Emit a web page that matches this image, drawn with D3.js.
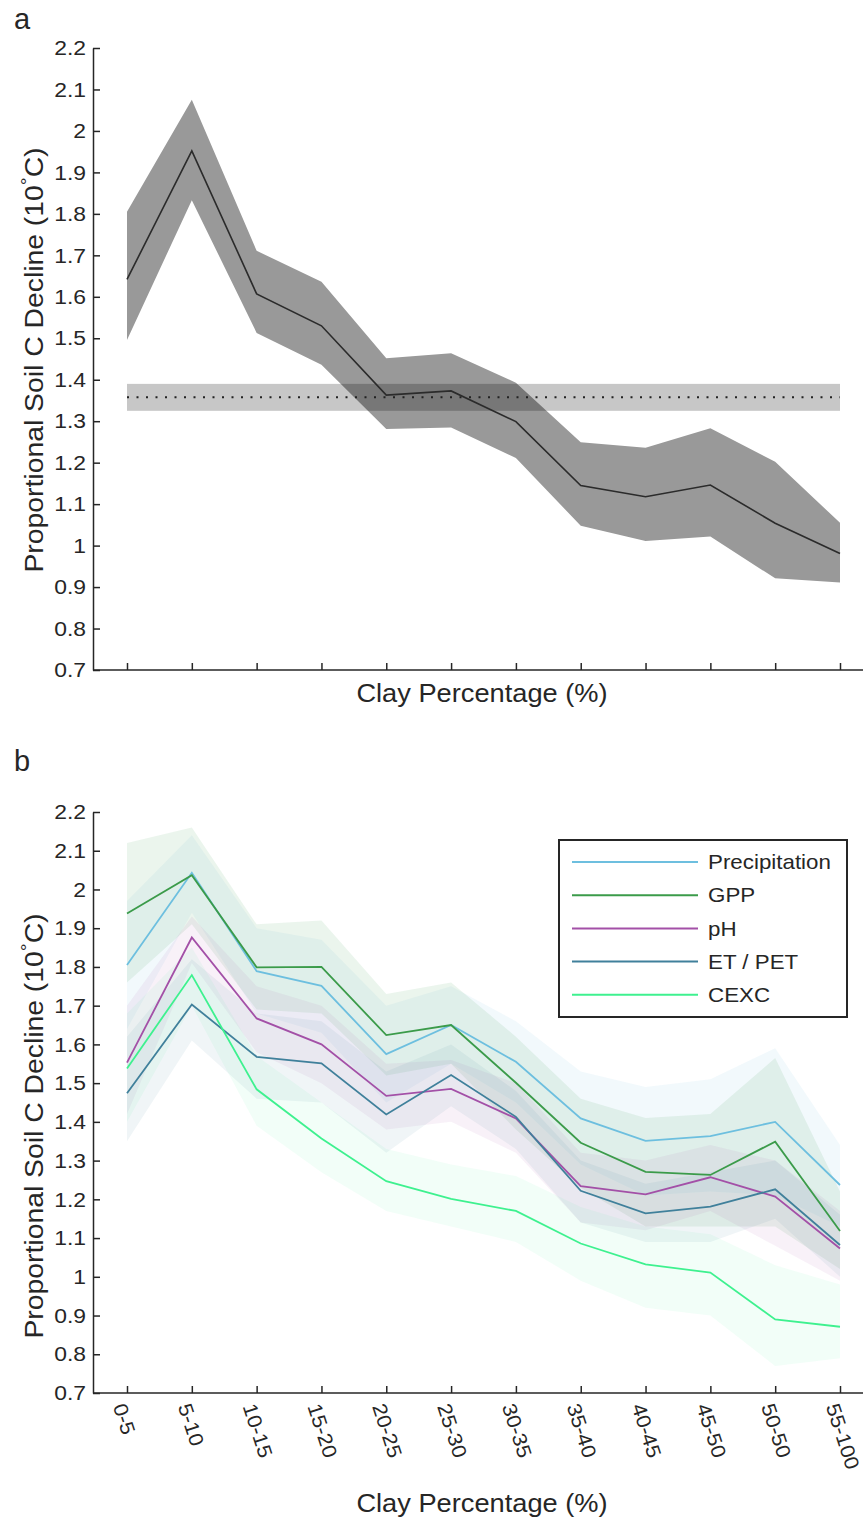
<!DOCTYPE html>
<html><head><meta charset="utf-8">
<script src="https://cdn.jsdelivr.net/npm/d3@7"></script>
<style>body{margin:0;background:#fff}svg{display:block}text{font-family:"Liberation Sans",Arial,sans-serif;fill:#262626}</style>
</head><body>
<svg id="c" width="863" height="1517"></svg>
<script>
const categories = ["0-5","5-10","10-15","15-20","20-25","25-30","30-35","35-40","40-45","45-50","50-50","55-100"];
const yTicks = [0.7,0.8,0.9,1.0,1.1,1.2,1.3,1.4,1.5,1.6,1.7,1.8,1.9,2.0,2.1,2.2];

// Panel a
const aMean  = [1.642,1.952,1.607,1.530,1.363,1.373,1.299,1.145,1.118,1.146,1.054,0.981];
const aUpper = [1.805,2.075,1.711,1.636,1.452,1.464,1.393,1.249,1.236,1.283,1.202,1.055];
const aLower = [1.496,1.833,1.513,1.436,1.281,1.285,1.211,1.048,1.011,1.022,0.921,0.911];
const globalMean = 1.358, globalLow = 1.325, globalHigh = 1.390;

// Panel b
const seriesNames = ["Precipitation","GPP","pH","ET / PET","CEXC"];
const seriesColors = ["#6dbfdf","#3b9b4a","#a350a7","#40809b","#3ef18f"];
const bandAlpha = [0.09,0.1,0.08,0.08,0.065];
const precip = [1.805,2.043,1.789,1.751,1.575,1.650,1.555,1.409,1.351,1.363,1.400,1.237];
const gpp    = [1.938,2.037,1.799,1.800,1.624,1.650,1.501,1.346,1.271,1.263,1.349,1.118];
const ph     = [1.553,1.876,1.667,1.600,1.467,1.485,1.409,1.234,1.213,1.257,1.207,1.073];
const etpet  = [1.474,1.703,1.568,1.551,1.419,1.521,1.413,1.222,1.164,1.181,1.226,1.082];
const cexc   = [1.538,1.779,1.484,1.357,1.247,1.201,1.170,1.086,1.032,1.011,0.890,0.871];
const precipUp = [1.97,2.14,1.90,1.87,1.70,1.75,1.66,1.53,1.49,1.51,1.59,1.34];
const precipLo = [1.64,1.94,1.68,1.63,1.45,1.55,1.45,1.29,1.21,1.22,1.21,1.13];
const gppUp    = [2.12,2.16,1.91,1.92,1.73,1.76,1.62,1.46,1.41,1.42,1.565,1.22];
const gppLo    = [1.76,1.91,1.69,1.68,1.52,1.55,1.38,1.23,1.13,1.13,1.13,1.02];
const phUp     = [1.70,1.93,1.75,1.70,1.55,1.56,1.50,1.32,1.30,1.34,1.30,1.17];
const phLo     = [1.42,1.81,1.58,1.50,1.38,1.40,1.32,1.14,1.12,1.17,1.08,0.99];
const etpetUp  = [1.62,1.82,1.68,1.66,1.53,1.60,1.48,1.30,1.24,1.27,1.30,1.16];
const etpetLo  = [1.35,1.61,1.46,1.45,1.32,1.44,1.33,1.14,1.09,1.09,1.15,1.00];
const cexcUp   = [1.68,1.85,1.57,1.45,1.33,1.29,1.26,1.18,1.13,1.11,1.03,0.98];
const cexcLo   = [1.40,1.70,1.39,1.27,1.17,1.13,1.09,0.99,0.92,0.90,0.77,0.79];

const svg = d3.select("#c");
const axisColor = "#262626";
const SX = 1.09;
const fmt = d => String(+d.toFixed(1));
const x = d3.scalePoint().domain(categories).range([127, 840]);

function drawAxes(g, y, x0, x1, yBottom, showLabels) {
  const ya = g.append("g").attr("transform", `translate(${x0},0)`)
    .call(d3.axisLeft(y).tickValues(yTicks).tickFormat(fmt).tickSizeInner(-7).tickSizeOuter(0).tickPadding(7));
  ya.selectAll("text").style("font-size","21px").attr("fill", axisColor)
    .attr("x", 0).attr("transform", `translate(-7,0) scale(${SX},1)`);
  ya.selectAll("line,path").attr("stroke", axisColor).attr("stroke-width", 1.5);
  const xa = g.append("g").attr("transform", `translate(0,${yBottom})`)
    .call(d3.axisBottom(x).tickSizeInner(-7).tickSizeOuter(0).tickFormat(showLabels ? d => d : ""));
  xa.select(".domain").remove();
  xa.selectAll("line").attr("stroke", axisColor).attr("stroke-width", 1.5);
  g.append("line").attr("x1", x0).attr("x2", x1).attr("y1", yBottom).attr("y2", yBottom)
    .attr("stroke", axisColor).attr("stroke-width", 1.5);
  if (showLabels) {
    xa.selectAll("text").style("font-size","20px").attr("fill", axisColor)
      .attr("text-anchor","start").attr("dy","0.35em")
      .attr("transform",`translate(-8,11) rotate(72) scale(${SX},1)`).attr("x",0).attr("y",0);
  } else {
    xa.selectAll("text").remove();
  }
}

function yLabel(g, cx, cy) {
  const t = g.append("text").attr("transform", `translate(${cx},${cy}) rotate(-90) scale(${SX},1)`)
    .attr("text-anchor","middle").style("font-size","26px");
  t.append("tspan").text("Proportional Soil C Decline (10");
  t.append("tspan").text("\u00B0").attr("dy","-9").style("font-size","18px");
  t.append("tspan").text("C)").attr("dy","9");
}
function xTitle(g, cy) {
  g.append("text").attr("transform", `translate(482,${cy}) scale(${SX},1)`)
    .attr("text-anchor","middle").style("font-size","25px").text("Clay Percentage (%)");
}

// ---------- Panel a ----------
const ya = d3.scaleLinear().domain([0.7, 2.2]).range([670, 48]);
const ga = svg.append("g");
const idx = d3.range(categories.length);
const area = (y, lo, hi) => d3.area().x(i => x(categories[i])).y0(i => y(lo[i])).y1(i => y(hi[i]));
const line = (y, v) => d3.line().x(i => x(categories[i])).y(i => y(v[i]));

ga.append("path").datum(idx).attr("d", area(ya, aLower, aUpper)).attr("fill", "#999999");
ga.append("rect").attr("x", x(categories[0])).attr("width", x(categories[11]) - x(categories[0]))
  .attr("y", ya(globalHigh)).attr("height", ya(globalLow) - ya(globalHigh))
  .attr("fill", "#000").attr("fill-opacity", 0.22);
ga.append("line").attr("x1", x(categories[0])).attr("x2", x(categories[11]))
  .attr("y1", ya(globalMean)).attr("y2", ya(globalMean))
  .attr("stroke", "#222").attr("stroke-width", 2).attr("stroke-dasharray", "2,7.5");
ga.append("path").datum(idx).attr("d", line(ya, aMean)).attr("fill", "none")
  .attr("stroke", "#2b2b2b").attr("stroke-width", 1.6);
drawAxes(ga, ya, 93, 863, 670, false);
xTitle(ga, 702);
yLabel(ga, 43, 360);
ga.append("text").attr("x", 14).attr("y", 29).style("font-size","29px").text("a");

// ---------- Panel b ----------
const yb = d3.scaleLinear().domain([0.7, 2.2]).range([1393, 812]);
const gb = svg.append("g");
const vals = [precip, gpp, ph, etpet, cexc];
const ups = [precipUp, gppUp, phUp, etpetUp, cexcUp];
const los = [precipLo, gppLo, phLo, etpetLo, cexcLo];
vals.forEach((v, k) => {
  gb.append("path").datum(idx).attr("d", area(yb, los[k], ups[k]))
    .attr("fill", seriesColors[k]).attr("fill-opacity", bandAlpha[k]);
});
vals.forEach((v, k) => {
  gb.append("path").datum(idx).attr("d", line(yb, v)).attr("fill", "none")
    .attr("stroke", seriesColors[k]).attr("stroke-width", 1.8);
});
drawAxes(gb, yb, 93, 863, 1393, true);
xTitle(gb, 1512);
yLabel(gb, 43, 1126);
gb.append("text").attr("x", 14).attr("y", 771).style("font-size","29px").text("b");

// legend
const lg = gb.append("g");
lg.append("rect").attr("x", 559).attr("y", 840).attr("width", 288).attr("height", 177)
  .attr("fill", "#fff").attr("stroke", "#262626").attr("stroke-width", 2);
seriesNames.forEach((n, k) => {
  const yy = 862 + k * 33.2;
  lg.append("line").attr("x1", 572).attr("x2", 698).attr("y1", yy).attr("y2", yy)
    .attr("stroke", seriesColors[k]).attr("stroke-width", 2);
  lg.append("text").attr("transform", `translate(708,${yy}) scale(${SX},1)`).attr("dy", "0.35em")
    .style("font-size","20.5px").text(n);
});
</script>
</body></html>
